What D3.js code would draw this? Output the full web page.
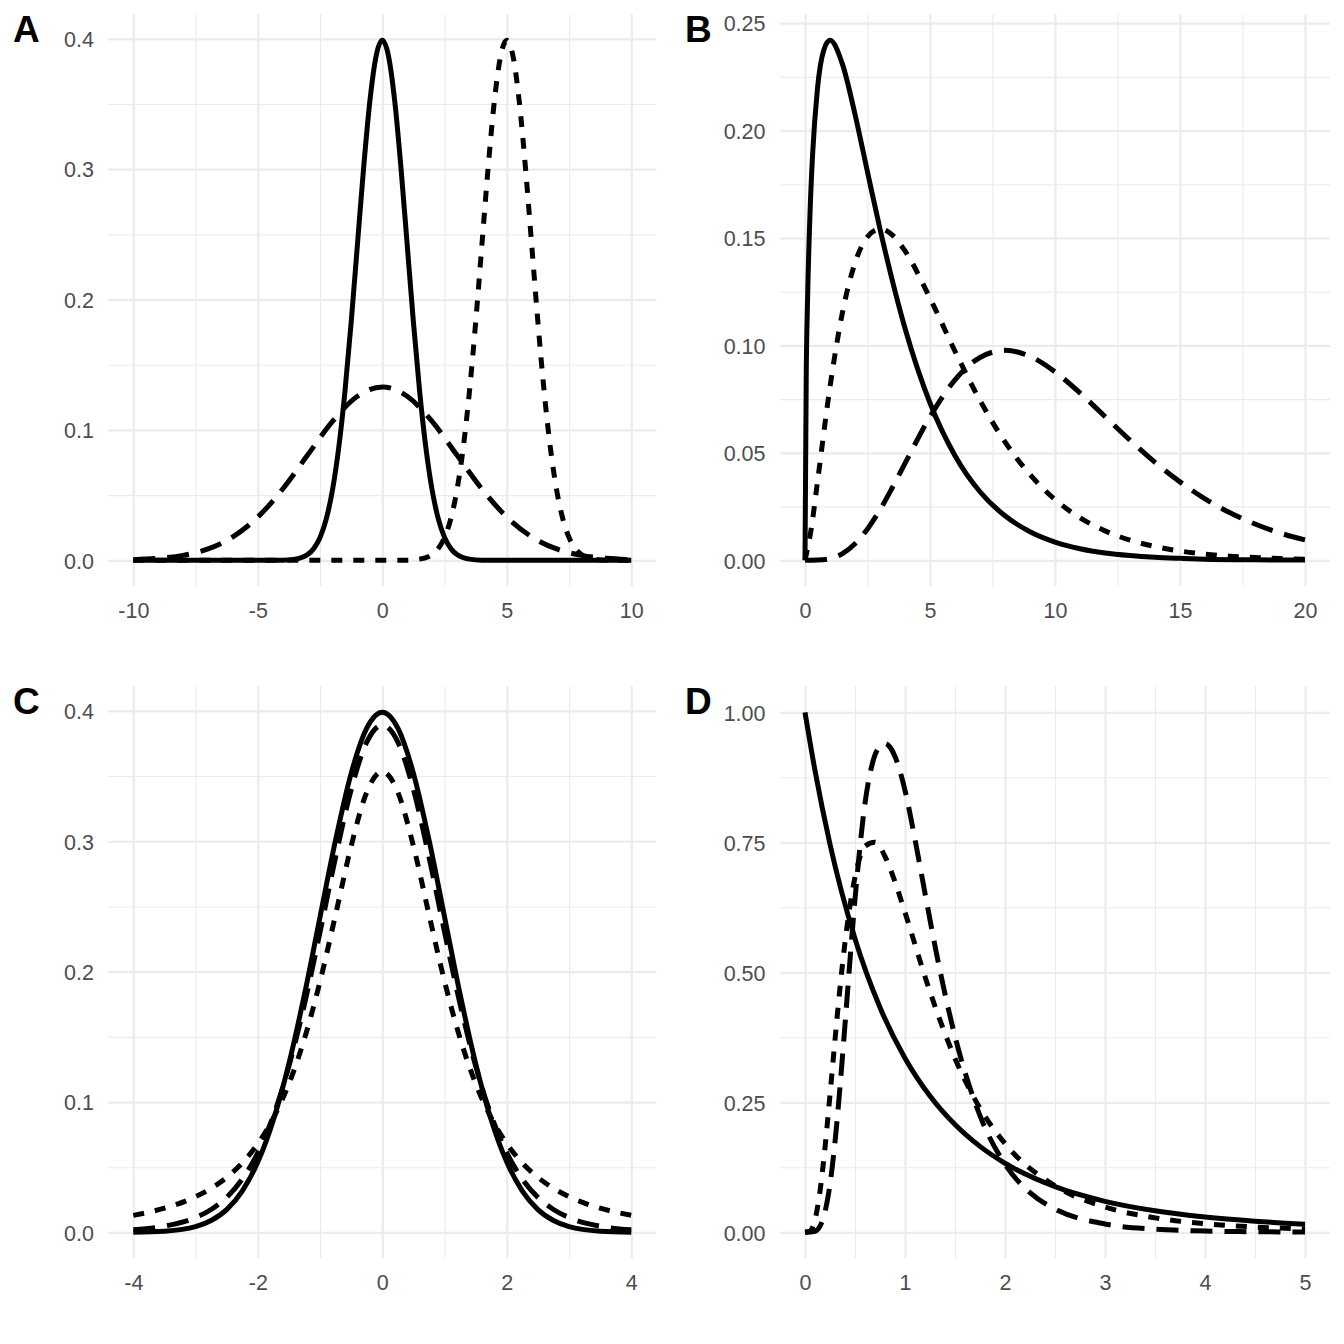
<!DOCTYPE html>
<html><head><meta charset="utf-8">
<script src="https://cdn.jsdelivr.net/npm/d3@7"></script>
<style>body{margin:0;background:#fff}</style>
</head><body>
<svg id="chart" width="1344" height="1344" xmlns="http://www.w3.org/2000/svg"></svg>
<script>
// ---------- Panel A: normal densities ----------
const aSolidX = [-10,-5,-4,-3.5,-3,-2.75,-2.5,-2.25,-2,-1.75,-1.5,-1.25,-1,-0.75,-0.5,-0.25,0,0.25,0.5,0.75,1,1.25,1.5,1.75,2,2.25,2.5,2.75,3,3.5,4,5,10];
const aSolidY = [0,0,0.0001,0.0009,0.0044,0.0091,0.0175,0.0317,0.0540,0.0863,0.1295,0.1826,0.2420,0.3011,0.3521,0.3867,0.3989,0.3867,0.3521,0.3011,0.2420,0.1826,0.1295,0.0863,0.0540,0.0317,0.0175,0.0091,0.0044,0.0009,0.0001,0,0];
const aDotX = [-10,0,1,1.5,2,2.25,2.5,2.75,3,3.25,3.5,3.75,4,4.25,4.5,4.75,5,5.25,5.5,5.75,6,6.25,6.5,6.75,7,7.25,7.5,7.75,8,8.5,9,10];
const aDotY = [0,0,0.0001,0.0009,0.0044,0.0091,0.0175,0.0317,0.0540,0.0863,0.1295,0.1826,0.2420,0.3011,0.3521,0.3867,0.3989,0.3867,0.3521,0.3011,0.2420,0.1826,0.1295,0.0863,0.0540,0.0317,0.0175,0.0091,0.0044,0.0009,0.0001,0];
const aDashX = [-10,-9,-8,-7,-6,-5,-4,-3,-2,-1,0,1,2,3,4,5,6,7,8,9,10];
const aDashY = [0.0005,0.0015,0.0038,0.0087,0.0180,0.0332,0.0547,0.0807,0.1065,0.1258,0.1330,0.1258,0.1065,0.0807,0.0547,0.0332,0.0180,0.0087,0.0038,0.0015,0.0005];
const aXTicks = [-10,-5,0,5,10];
const aXLabels = ["-10","-5","0","5","10"];
const aYTicks = [0,0.1,0.2,0.3,0.4];
const aYLabels = ["0.0","0.1","0.2","0.3","0.4"];

// ---------- Panel B: chi-square densities ----------
const bSolidX = [0,0.05,0.1,0.2,0.3,0.5,0.75,1,1.5,2,2.5,3,4,5,6,7,8,9,10,11,12,13,14,15,16,18,20];
const bSolidY = [0,0.0870,0.1200,0.1614,0.1881,0.2197,0.2374,0.2420,0.2308,0.2076,0.1807,0.1542,0.1080,0.0732,0.0487,0.0319,0.0207,0.0133,0.0085,0.0054,0.0034,0.0022,0.0014,0.0009,0.0005,0.0002,0.0001];
const bDotX = [0,0.25,0.5,1,1.5,2,2.5,3,3.5,4,5,6,7,8,9,10,11,12,13,14,15,16,17,18,19,20];
const bDotY = [0,0.0147,0.0366,0.0807,0.1154,0.1384,0.1506,0.1542,0.1513,0.1440,0.1220,0.0973,0.0744,0.0551,0.0399,0.0283,0.0198,0.0137,0.0094,0.0064,0.0043,0.0029,0.0019,0.0013,0.0008,0.0005];
const bDashX = [0,0.5,1,1.5,2,2.5,3,3.5,4,5,6,7,8,9,10,11,12,13,14,15,16,17,18,19,20];
const bDashY = [0,0.0001,0.0008,0.0031,0.0077,0.0146,0.0235,0.0340,0.0451,0.0668,0.0840,0.0944,0.0977,0.0949,0.0877,0.0779,0.0669,0.0559,0.0456,0.0365,0.0286,0.0221,0.0169,0.0127,0.0095];
const bXTicks = [0,5,10,15,20];
const bXLabels = ["0","5","10","15","20"];
const bYTicks = [0,0.05,0.10,0.15,0.20,0.25];
const bYLabels = ["0.00","0.05","0.10","0.15","0.20","0.25"];

// ---------- Panel C: normal vs t densities ----------
const cX = [-4,-3.5,-3,-2.75,-2.5,-2.25,-2,-1.75,-1.5,-1.25,-1,-0.75,-0.5,-0.25,0,0.25,0.5,0.75,1,1.25,1.5,1.75,2,2.25,2.5,2.75,3,3.5,4];
const cSolidY = [0.0001,0.0009,0.0044,0.0091,0.0175,0.0317,0.0540,0.0863,0.1295,0.1826,0.2420,0.3011,0.3521,0.3867,0.3989,0.3867,0.3521,0.3011,0.2420,0.1826,0.1295,0.0863,0.0540,0.0317,0.0175,0.0091,0.0044,0.0009,0.0001];
const cDashY = [0.0020,0.0048,0.0114,0.0176,0.0269,0.0409,0.0611,0.0895,0.1275,0.1751,0.2304,0.2880,0.3397,0.3760,0.3891,0.3760,0.3397,0.2880,0.2304,0.1751,0.1275,0.0895,0.0611,0.0409,0.0269,0.0176,0.0114,0.0048,0.0020];
const cDotY = [0.0131,0.0186,0.0274,0.0338,0.0422,0.0533,0.0680,0.0878,0.1141,0.1487,0.1925,0.2438,0.2963,0.3376,0.3536,0.3376,0.2963,0.2438,0.1925,0.1487,0.1141,0.0878,0.0680,0.0533,0.0422,0.0338,0.0274,0.0186,0.0131];
const cXTicks = [-4,-2,0,2,4];
const cXLabels = ["-4","-2","0","2","4"];
const cYTicks = [0,0.1,0.2,0.3,0.4];
const cYLabels = ["0.0","0.1","0.2","0.3","0.4"];

// ---------- Panel D: F densities ----------
const dSolidX = [0,0.1,0.25,0.5,0.75,1,1.25,1.5,1.75,2,2.5,3,3.5,4,4.5,5];
const dSolidY = [1,0.8880,0.7462,0.5645,0.4323,0.3349,0.2621,0.2072,0.1652,0.1328,0.0878,0.0596,0.0414,0.0294,0.0213,0.0156];
const dDotX = [0,0.05,0.1,0.15,0.2,0.25,0.3,0.35,0.4,0.5,0.6,0.7,0.8,0.9,1,1.25,1.5,1.75,2,2.5,3,3.5,4,4.5,5];
const dDotY = [0,0.0024,0.0243,0.0788,0.1628,0.2642,0.3702,0.4702,0.5576,0.6828,0.7426,0.7501,0.7227,0.6742,0.6152,0.4625,0.3344,0.2387,0.1707,0.0892,0.0487,0.0278,0.0165,0.0102,0.0065];
const dDashX = [0,0.1,0.15,0.2,0.25,0.3,0.35,0.4,0.5,0.6,0.7,0.75,0.8,0.85,0.9,1,1.1,1.2,1.3,1.4,1.5,1.75,2,2.25,2.5,3,3.5,4,4.5,5];
const dDashY = [0,0.0021,0.0119,0.0392,0.0923,0.1738,0.2793,0.3996,0.6408,0.8250,0.9180,0.9350,0.9400,0.9330,0.9150,0.8500,0.7555,0.6521,0.5507,0.4581,0.3767,0.2243,0.1309,0.0762,0.0447,0.0160,0.0061,0.0025,0.0011,0.0005];
const dXTicks = [0,1,2,3,4,5];
const dXLabels = ["0","1","2","3","4","5"];
const dYTicks = [0,0.25,0.5,0.75,1];
const dYLabels = ["0.00","0.25","0.50","0.75","1.00"];

const panelLabels = ["A","B","C","D"];

// ---------- drawing ----------
const svg = d3.select("#chart");
svg.append("rect").attr("width",1344).attr("height",1344).attr("fill","#fff");

const DASH = {solid:null, dashed:"22,12", dotted:"11,11"};
const FONT = "'Liberation Sans', Arial, Helvetica, sans-serif";

function drawPanel(p){
  const g = svg.append("g");
  const allX = p.series.flatMap(s=>s.x), allY = p.series.flatMap(s=>s.y);
  const [x0,x1] = d3.extent(allX), [y0,y1] = d3.extent(allY);
  const ex = (x1-x0)*0.05, ey = (y1-y0)*0.05;
  const x = d3.scaleLinear().domain([x0-ex,x1+ex]).range([p.left,p.right]);
  const y = d3.scaleLinear().domain([y0-ey,y1+ey]).range([p.bottom,p.top]);
  const w = p.right-p.left, h = p.bottom-p.top;
  const mid = a => d3.pairs(a).map(([u,v])=>(u+v)/2);

  // minor grid
  g.append("g").attr("transform",`translate(${p.left},0)`)
    .call(d3.axisLeft(y).tickValues(mid(p.yTicks)).tickSize(-w).tickFormat(""))
    .call(s=>{s.select(".domain").remove(); s.selectAll("line").attr("stroke","#ebebeb").attr("stroke-width",1.1);});
  g.append("g").attr("transform",`translate(0,${p.bottom})`)
    .call(d3.axisBottom(x).tickValues(mid(p.xTicks)).tickSize(-h).tickFormat(""))
    .call(s=>{s.select(".domain").remove(); s.selectAll("line").attr("stroke","#ebebeb").attr("stroke-width",1.1);});
  // major grid
  g.append("g").attr("transform",`translate(${p.left},0)`)
    .call(d3.axisLeft(y).tickValues(p.yTicks).tickSize(-w).tickFormat(""))
    .call(s=>{s.select(".domain").remove(); s.selectAll("line").attr("stroke","#ebebeb").attr("stroke-width",2.2);});
  g.append("g").attr("transform",`translate(0,${p.bottom})`)
    .call(d3.axisBottom(x).tickValues(p.xTicks).tickSize(-h).tickFormat(""))
    .call(s=>{s.select(".domain").remove(); s.selectAll("line").attr("stroke","#ebebeb").attr("stroke-width",2.2);});

  // tick labels
  g.append("g").attr("transform",`translate(${p.left},0)`)
    .call(d3.axisLeft(y).tickValues(p.yTicks).tickSize(0).tickPadding(14.5).tickFormat((d,i)=>p.yLabels[i]))
    .call(s=>{s.select(".domain").remove();
      s.attr("font-family",FONT).attr("font-size",21.5);
      s.selectAll("text").attr("fill","#4d4d4d").attr("dy","0.36em");});
  g.append("g").attr("transform",`translate(0,${p.bottom})`)
    .call(d3.axisBottom(x).tickValues(p.xTicks).tickSize(0).tickPadding(16).tickFormat((d,i)=>p.xLabels[i]))
    .call(s=>{s.select(".domain").remove();
      s.attr("font-family",FONT).attr("font-size",21.5);
      s.selectAll("text").attr("fill","#4d4d4d");});

  // curves
  const line = d3.line().x(d=>x(d[0])).y(d=>y(d[1])).curve(d3.curveMonotoneX);
  p.series.forEach(s=>{
    const pts = s.x.map((v,i)=>[v,s.y[i]]);
    g.append("path").attr("d",line(pts)).attr("fill","none")
      .attr("stroke","#000").attr("stroke-width",5)
      .attr("stroke-linejoin","round").attr("stroke-linecap","butt")
      .attr("stroke-dasharray",DASH[s.type]);
  });

  // panel label
  svg.append("text").attr("x",p.labX).attr("y",p.labY).text(p.label)
    .attr("font-family",FONT).attr("font-weight","bold").attr("font-size",37).attr("fill","#000");
}

drawPanel({label:panelLabels[0], labX:13, labY:42,
  left:108.4, right:656.2, top:14.3, bottom:586.3,
  xTicks:aXTicks, xLabels:aXLabels, yTicks:aYTicks, yLabels:aYLabels,
  series:[{x:aSolidX,y:aSolidY,type:"solid"},{x:aDotX,y:aDotY,type:"dotted"},{x:aDashX,y:aDashY,type:"dashed"}]});
drawPanel({label:panelLabels[1], labX:685, labY:42,
  left:780, right:1330, top:14.3, bottom:586.3,
  xTicks:bXTicks, xLabels:bXLabels, yTicks:bYTicks, yLabels:bYLabels,
  series:[{x:bSolidX,y:bSolidY,type:"solid"},{x:bDotX,y:bDotY,type:"dotted"},{x:bDashX,y:bDashY,type:"dashed"}]});
drawPanel({label:panelLabels[2], labX:13, labY:714,
  left:108.4, right:656.2, top:686.3, bottom:1258.3,
  xTicks:cXTicks, xLabels:cXLabels, yTicks:cYTicks, yLabels:cYLabels,
  series:[{x:cX,y:cSolidY,type:"solid"},{x:cX,y:cDashY,type:"dashed"},{x:cX,y:cDotY,type:"dotted"}]});
drawPanel({label:panelLabels[3], labX:685, labY:714,
  left:780, right:1330, top:686.3, bottom:1258.3,
  xTicks:dXTicks, xLabels:dXLabels, yTicks:dYTicks, yLabels:dYLabels,
  series:[{x:dSolidX,y:dSolidY,type:"solid"},{x:dDotX,y:dDotY,type:"dotted"},{x:dDashX,y:dDashY,type:"dashed"}]});
</script>
</body></html>
